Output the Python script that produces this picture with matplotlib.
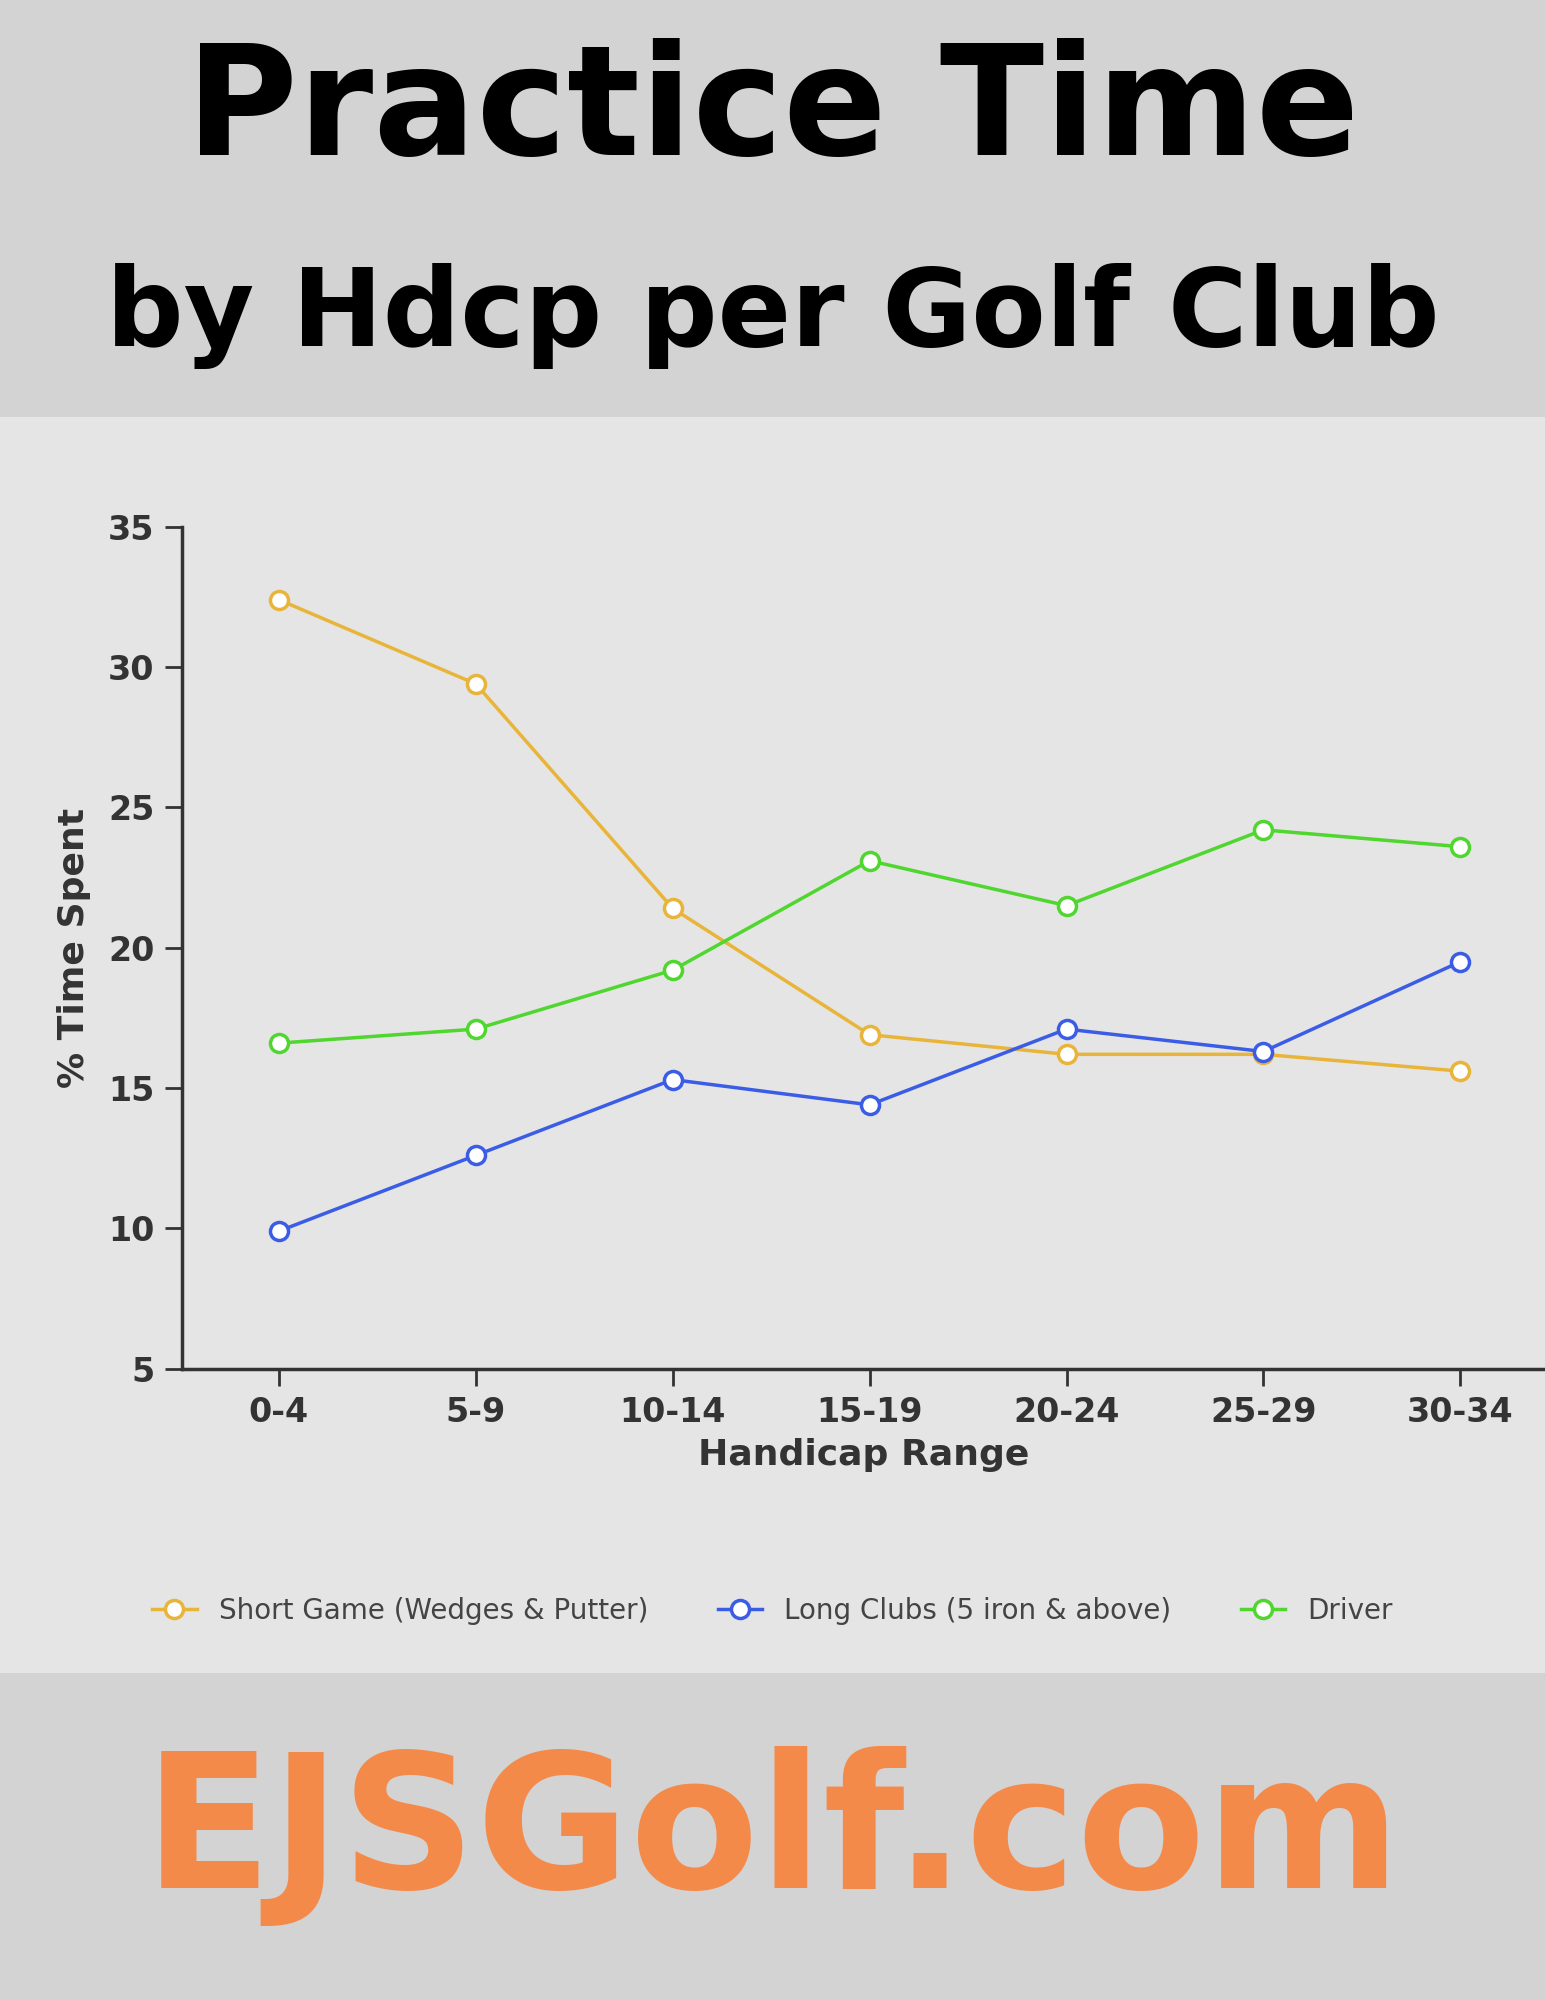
import matplotlib
matplotlib.use("Agg")
import matplotlib.pyplot as plt
from matplotlib.lines import Line2D
from matplotlib.patches import Rectangle

categories = ["0-4", "5-9", "10-14", "15-19", "20-24", "25-29", "30-34"]
short_game = [32.4, 29.4, 21.4, 16.9, 16.2, 16.2, 15.6]
long_clubs = [9.9, 12.6, 15.3, 14.4, 17.1, 16.3, 19.5]
driver = [16.6, 17.1, 19.2, 23.1, 21.5, 24.2, 23.6]
yticks = [5, 10, 15, 20, 25, 30, 35]

fig = plt.figure(figsize=(15.45, 20), dpi=100)
fig.patch.set_facecolor("#d3d3d3")
bg = Rectangle((0, 1 - 1312/1568), 1, (1312-327)/1568, transform=fig.transFigure,
               facecolor="#e5e5e5", edgecolor="none", zorder=-10)
fig.add_artist(bg)

ax = fig.add_axes([143/1211, 1 - 1073/1568, 1 - 143/1211, (1073-413)/1568])
ax.set_zorder(5)
ax.set_facecolor("none")
x = list(range(len(categories)))
series = [(short_game, "#e8b53a", "Short Game (Wedges & Putter)"),
          (long_clubs, "#3b5de6", "Long Clubs (5 iron & above)"),
          (driver, "#4fd62f", "Driver")]
handles = []
for vals, c, lab in series:
    ax.plot(x, vals, color=c, lw=2.5, marker="o", ms=13, mfc="white", mec=c, mew=2.5, label=lab,
            clip_on=False)
    handles.append(Line2D([], [], color=c, lw=2.5, marker="o", ms=13, mfc="white", mec=c, mew=2.5, label=lab))
ax.set_xlim(-0.49, 6.43)
ax.set_ylim(5, 35)
ax.set_yticks(yticks)
ax.set_xticks(x)
ax.set_xticklabels(categories)
for s in ["top", "right"]:
    ax.spines[s].set_visible(False)
for s in ["left", "bottom"]:
    ax.spines[s].set_color("#333333")
    ax.spines[s].set_linewidth(2.5)
ax.tick_params(colors="#333333", labelsize=24, width=2, length=12, pad=8)
for t in ax.get_xticklabels() + ax.get_yticklabels():
    t.set_fontweight("bold")
ax.set_xlabel("Handicap Range", fontsize=26, fontweight="bold", color="#333333", labelpad=6)
ax.set_ylabel("% Time Spent", fontsize=26, fontweight="bold", color="#333333", labelpad=12)

fig.legend(handles=handles, loc="center", bbox_to_anchor=(0.5, 1 - 1263/1568), ncol=3,
           frameon=False, fontsize=20, labelcolor="#444444", handlelength=1.6, columnspacing=2.5)

fig.text(0.5, 1 - 88/1568, "Practice Time", ha="center", va="center", fontsize=110,
         fontweight="bold", color="black")
fig.text(0.5, 1 - 248/1568, "by Hdcp per Golf Club", ha="center", va="center", fontsize=78,
         fontweight="bold", color="black")
fig.text(0.5, 1 - 1440/1568, "EJSGolf.com", ha="center", va="center", fontsize=135,
         fontweight="bold", color="#f48a4a")

fig.savefig("out.png", dpi=100, facecolor=fig.get_facecolor())
